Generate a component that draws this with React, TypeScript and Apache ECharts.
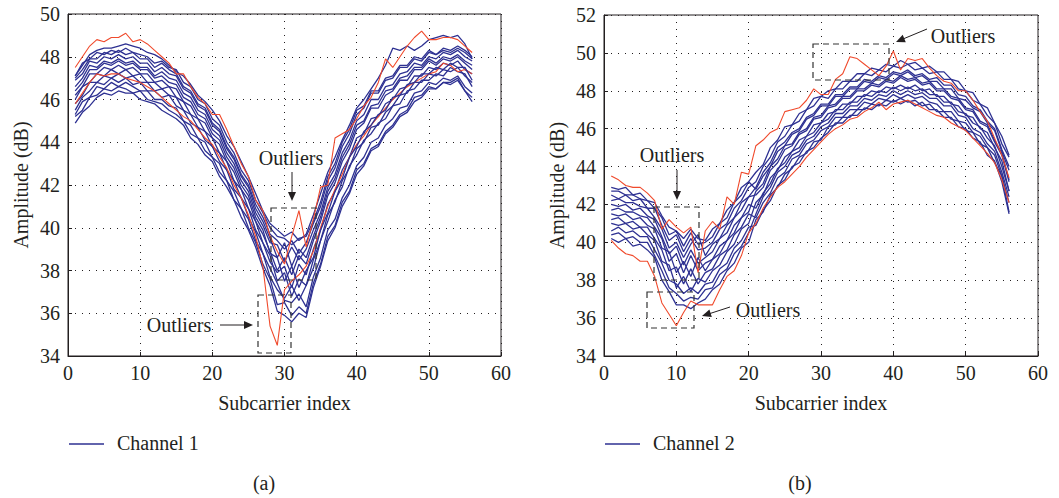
import React, { useEffect, useRef } from 'react';
import * as echarts from 'echarts';

// Subcarrier indices (x values)
const subcarriers = [1,2,3,4,5,6,7,8,9,10,11,12,13,14,15,16,17,18,19,20,21,22,23,24,25,26,27,28,29,30,31,32,33,34,35,36,37,38,39,40,41,42,43,44,45,46,47,48,49,50,51,52,53,54,55,56];

// ---------- Panel (a): Channel 1 ----------
const ch1Blue1 = [44.9,45.4,45.7,46.1,46.3,46.2,46.4,46.3,46.3,46.0,45.9,45.8,45.5,45.3,45.1,44.8,44.2,43.9,43.4,43.1,42.4,41.9,41.3,40.5,39.9,39.1,38.1,37.3,36.1,35.9,35.6,36.0,35.8,37.2,38.2,39.4,40.0,41.0,41.6,42.5,42.9,43.6,43.8,44.4,44.7,45.2,45.4,45.9,46.1,46.5,46.5,46.8,46.7,46.9,46.4,45.9];
const ch1Blue2 = [45.2,45.5,46.1,46.2,46.5,46.4,46.6,46.5,46.3,46.4,46.0,45.9,45.8,45.5,45.3,45.0,44.4,44.2,43.6,43.3,42.6,42.2,41.3,40.9,40.0,39.3,38.3,37.6,36.4,36.5,35.9,36.3,36.0,37.4,38.3,39.6,40.1,41.2,41.7,42.7,43.0,43.7,43.9,44.5,44.8,45.3,45.5,46.1,46.2,46.6,46.5,46.8,46.8,47.0,46.4,46.1];
const ch1Blue3 = [45.3,45.9,46.1,46.6,46.5,46.8,46.6,46.8,46.6,46.4,46.4,46.0,46.0,45.7,45.6,45.0,44.8,44.2,44.0,43.3,43.0,42.2,41.7,40.9,40.4,39.4,38.8,37.7,37.1,36.7,37.3,36.6,37.3,38.1,39.4,40.3,41.3,41.9,42.9,43.4,44.1,44.4,44.9,45.1,45.7,45.8,46.4,46.5,46.9,46.9,47.2,47.1,47.5,47.3,47.2,46.6];
const ch1Blue4 = [45.5,46.1,46.4,46.8,46.7,47.0,46.8,47.0,46.7,46.8,46.4,46.4,46.1,46.2,45.7,45.5,44.9,44.7,44.1,43.8,43.1,42.7,41.8,41.4,40.5,39.8,38.8,38.1,37.4,36.6,36.5,36.9,36.3,37.7,38.6,39.9,40.4,41.4,42.0,42.9,43.3,44.0,44.2,44.8,45.1,45.6,45.7,46.3,46.4,46.8,46.7,47.0,46.9,47.1,46.6,46.3];
const ch1Blue5 = [45.8,46.2,46.8,46.8,47.1,47.0,47.2,47.0,47.1,46.8,46.8,46.4,46.5,46.2,46.1,45.5,45.3,44.7,44.5,43.8,43.5,42.7,42.2,41.4,40.9,39.9,39.3,38.4,37.9,38.2,37.2,38.3,37.8,39.0,39.9,41.1,41.7,42.7,43.3,44.2,44.4,45.1,45.2,45.8,46.0,46.5,46.6,47.1,47.1,47.5,47.4,47.7,47.6,47.8,47.4,47.2];
const ch1Blue6 = [46.0,46.6,46.8,47.2,47.1,47.4,47.2,47.4,47.1,47.2,46.8,46.8,46.5,46.6,46.1,45.9,45.3,45.1,44.5,44.2,43.5,43.1,42.2,41.8,40.9,40.3,39.3,38.7,37.5,37.9,36.8,37.6,37.3,38.5,39.4,40.6,41.2,42.2,42.8,43.7,44.0,44.7,44.8,45.4,45.7,46.2,46.3,46.8,46.8,47.2,47.1,47.4,47.3,47.5,47.1,46.8];
const ch1Blue7 = [46.2,46.6,47.2,47.2,47.5,47.4,47.6,47.4,47.5,47.2,47.2,46.8,46.9,46.6,46.5,45.9,45.7,45.1,44.9,44.2,43.9,43.1,42.6,41.8,41.3,40.3,39.7,38.9,38.0,38.6,37.8,38.7,38.3,39.4,40.3,41.5,42.1,43.1,43.7,44.6,44.9,45.6,45.6,46.2,46.4,46.9,46.9,47.4,47.4,47.8,47.6,47.9,47.8,48.0,47.7,47.4];
const ch1Blue8 = [46.4,46.8,47.4,47.4,47.7,47.6,47.8,47.6,47.7,47.4,47.4,47.0,47.1,46.8,46.7,46.1,45.9,45.3,45.1,44.4,44.1,43.3,42.8,42.0,41.5,40.5,39.9,38.8,38.6,37.5,38.2,37.2,38.0,38.6,39.9,40.7,41.7,42.3,43.3,43.8,44.5,44.8,45.3,45.5,46.1,46.2,46.7,46.8,47.2,47.2,47.5,47.4,47.7,47.5,47.5,46.9];
const ch1Blue9 = [46.6,47.0,47.6,47.5,47.8,47.7,47.9,47.7,47.8,47.5,47.5,47.1,47.3,47.0,46.9,46.3,46.1,45.5,45.3,44.6,44.3,43.5,43.0,42.2,41.7,40.7,40.1,39.3,39.2,38.4,39.1,38.5,39.0,39.9,40.7,41.9,42.5,43.5,44.1,45.0,45.3,46.0,46.0,46.6,46.7,47.2,47.3,47.7,47.6,48.0,47.9,48.2,48.1,48.3,48.0,47.8];
const ch1Blue10 = [46.9,47.2,47.8,47.7,48.0,47.9,48.1,47.9,48.0,47.7,47.7,47.3,47.5,47.2,47.1,46.5,46.3,45.7,45.5,44.8,44.5,43.7,43.2,42.4,41.9,40.9,40.3,39.5,38.6,39.3,38.2,39.0,38.6,39.6,40.5,41.7,42.3,43.3,43.9,44.8,45.0,45.7,45.8,46.4,46.5,47.0,47.1,47.5,47.5,47.9,47.7,48.0,47.9,48.1,47.8,47.6];
const ch1Blue11 = [47.0,47.4,47.9,47.9,48.2,48.1,48.3,48.1,48.2,47.9,47.9,47.5,47.7,47.4,47.2,46.6,46.4,45.8,45.6,44.9,44.6,43.8,43.3,42.5,42.0,41.1,40.5,39.7,39.4,39.0,39.4,38.8,39.3,40.2,41.0,42.2,42.8,43.8,44.4,45.3,45.6,46.3,46.3,46.9,47.0,47.5,47.5,47.9,47.8,48.2,48.1,48.3,48.2,48.4,48.2,47.9];
const ch1Blue12 = [47.1,47.7,47.9,48.2,48.1,48.3,48.2,48.4,48.2,48.1,48.0,47.7,47.8,47.5,47.4,46.8,46.6,46.0,45.8,45.1,44.8,44.0,43.5,42.7,42.2,41.3,40.7,40.0,39.6,39.5,39.2,39.5,39.6,40.3,41.2,42.4,43.0,44.0,44.6,45.5,45.7,46.4,46.4,47.0,47.1,47.6,47.6,48.0,47.9,48.3,48.1,48.4,48.3,48.5,48.3,48.0];
const ch1Blue13 = [47.1,47.6,48.1,48.3,48.4,48.4,48.5,48.6,48.5,48.4,48.2,48.1,47.9,47.6,47.3,47.1,46.7,46.2,45.9,45.5,45.0,44.3,43.8,43.1,42.4,41.6,40.8,40.2,39.9,39.6,39.8,39.4,39.7,40.6,41.6,42.6,43.3,44.1,44.8,45.6,46.0,46.5,47.0,47.6,48.4,48.3,48.5,48.3,48.5,48.8,48.9,49.0,48.9,49.0,48.6,47.9];
const ch1Red1 = [47.5,48.0,48.5,48.8,48.7,48.9,48.9,49.1,48.7,48.8,48.6,48.3,48.0,47.7,47.2,47.2,46.6,46.1,45.8,45.3,45.3,44.6,43.8,43.0,42.4,41.3,40.8,39.6,38.9,38.3,39.6,40.8,39.1,40.4,41.9,42.0,44.2,44.4,44.6,45.1,45.7,46.1,46.8,47.9,47.5,48.0,48.5,48.9,49.2,48.8,48.8,48.9,48.9,48.8,48.5,48.2];
const ch1Red2 = [45.8,46.3,46.8,47.2,47.1,47.2,47.2,47.0,46.9,46.8,46.6,46.4,46.1,45.8,45.5,45.2,45.0,44.6,44.2,43.9,43.3,42.8,42.0,41.4,40.6,39.6,38.2,35.4,34.5,37.1,37.5,37.8,38.2,38.9,40.0,41.0,41.8,42.5,43.3,43.9,44.3,44.8,45.2,45.6,46.0,46.3,46.6,46.8,47.0,47.2,47.3,47.7,47.6,47.3,47.4,47.2];

// ---------- Panel (b): Channel 2 ----------
const ch2Blue1 = [40.2,40.0,40.2,39.8,39.9,39.6,39.2,38.0,37.4,36.7,36.7,36.5,36.8,37.0,37.5,37.8,38.5,38.9,39.7,40.0,41.2,41.6,42.5,42.9,43.6,43.9,44.5,44.7,45.3,45.4,46.1,46.2,46.6,46.6,47.0,47.0,47.3,47.2,47.5,47.4,47.6,47.4,47.5,47.2,47.3,46.9,46.9,46.5,46.4,45.9,45.8,45.2,45.0,44.2,43.5,41.6];
const ch2Blue2 = [40.4,40.5,40.2,40.3,40.0,40.0,39.3,38.5,37.6,37.3,36.9,37.1,37.0,37.5,37.6,38.3,38.6,39.4,39.8,40.5,41.5,42.4,42.9,43.7,44.0,44.6,44.8,45.4,45.6,46.1,46.3,46.8,46.8,47.2,47.2,47.6,47.5,47.8,47.7,48.0,47.8,48.0,47.8,47.9,47.6,47.6,47.2,47.2,46.7,46.6,46.0,45.8,45.2,44.8,43.7,42.4];
const ch2Blue3 = [40.6,40.8,40.5,40.6,40.3,40.3,39.6,38.9,38.0,37.8,37.3,37.6,37.3,37.8,37.9,38.6,38.9,39.7,40.1,40.8,40.9,41.7,42.2,43.0,43.3,44.0,44.2,44.8,45.0,45.5,45.8,46.3,46.3,46.7,46.7,47.1,47.0,47.3,47.2,47.5,47.3,47.5,47.2,47.4,47.0,47.0,46.6,46.6,46.1,46.0,45.5,45.3,44.6,44.3,43.2,41.5];
const ch2Blue4 = [41.0,40.9,41.0,40.7,40.8,40.4,40.1,39.0,38.8,37.6,38.2,37.4,38.1,37.9,38.5,38.8,39.5,39.9,40.7,41.0,42.1,42.5,43.4,43.8,44.5,44.8,45.4,45.6,46.2,46.3,46.8,46.9,47.3,47.3,47.7,47.7,48.0,47.9,48.2,48.1,48.3,48.1,48.3,48.0,48.1,47.7,47.7,47.3,47.2,46.7,46.6,46.0,45.8,45.0,44.3,42.7];
const ch2Blue5 = [41.2,41.3,41.0,41.1,40.8,40.8,40.2,39.6,38.5,38.7,37.8,38.6,37.8,38.4,38.6,39.3,39.6,40.4,40.8,41.5,41.3,42.1,42.6,43.4,43.7,44.4,44.6,45.2,45.4,45.9,46.1,46.6,46.6,47.0,47.0,47.4,47.3,47.6,47.5,47.8,47.6,47.8,47.6,47.7,47.4,47.3,46.9,46.9,46.4,46.3,45.8,45.6,45.0,44.6,43.5,42.1];
const ch2Blue6 = [41.5,41.4,41.5,41.2,41.3,40.9,40.7,39.7,39.5,38.4,39.0,38.2,39.2,38.5,39.1,39.4,40.1,40.5,41.3,41.6,42.7,43.1,44.0,44.4,45.1,45.2,45.8,46.0,46.6,46.7,47.2,47.3,47.7,47.7,48.1,48.1,48.4,48.3,48.6,48.5,48.8,48.6,48.7,48.4,48.5,48.1,48.1,47.7,47.6,47.1,47.0,46.4,46.2,45.4,44.7,43.3];
const ch2Blue7 = [41.7,41.8,41.6,41.6,41.4,41.3,40.8,40.2,39.0,39.4,38.4,39.3,38.5,38.9,39.1,39.8,40.1,40.9,41.3,42.0,41.8,42.6,43.1,43.9,44.2,44.8,45.0,45.6,45.8,46.3,46.5,47.0,47.0,47.4,47.4,47.8,47.7,48.0,47.9,48.2,48.0,48.2,48.0,48.1,47.8,47.8,47.4,47.4,46.9,46.8,46.3,46.1,45.5,45.1,44.0,42.7];
const ch2Blue8 = [42.0,41.9,42.0,41.7,41.8,41.4,41.2,40.3,39.4,39.8,38.8,39.6,38.9,39.2,39.5,40.2,40.5,41.3,41.7,42.4,42.9,43.7,44.2,45.0,45.3,45.8,46.0,46.6,46.8,47.3,47.3,47.8,47.8,48.2,48.2,48.6,48.5,48.8,48.7,49.0,48.9,49.1,48.8,48.9,48.6,48.7,48.3,48.3,47.8,47.7,47.2,47.0,46.4,46.0,44.9,44.0];
const ch2Blue9 = [42.2,42.3,42.1,42.1,41.9,41.8,41.3,40.7,39.7,40.0,39.2,39.9,40.4,39.3,39.9,40.2,40.9,41.3,42.1,42.4,42.5,42.9,43.8,44.2,44.9,45.1,45.7,45.9,46.5,46.6,47.1,47.2,47.6,47.6,48.0,48.0,48.3,48.2,48.5,48.4,48.7,48.5,48.6,48.3,48.4,48.0,48.0,47.6,47.5,47.0,46.9,46.3,46.1,45.3,44.6,43.2];
const ch2Blue10 = [42.5,42.3,42.5,42.2,42.3,41.8,41.8,40.9,40.1,40.4,39.5,40.2,39.6,39.7,40.0,40.7,41.0,41.8,42.2,42.9,43.2,44.0,44.5,45.3,45.6,46.2,46.4,47.0,47.2,47.7,47.6,48.1,48.1,48.5,48.5,48.9,48.8,49.1,49.0,49.3,49.2,49.4,49.1,49.2,48.9,49.0,48.6,48.6,48.1,48.0,47.5,47.3,46.7,46.3,45.2,44.5];
const ch2Blue11 = [42.7,42.7,42.5,42.5,42.3,42.2,41.8,41.3,40.4,40.6,39.8,40.5,39.9,40.0,40.3,41.0,41.3,42.1,42.5,43.2,42.8,43.5,44.0,44.8,45.1,45.7,45.9,46.5,46.7,47.2,47.2,47.7,47.7,48.1,48.1,48.5,48.4,48.7,48.6,48.9,48.8,49.0,48.7,48.8,48.5,48.5,48.1,48.1,47.6,47.5,47.1,46.9,46.3,45.9,44.8,43.8];
const ch2Blue12 = [42.9,42.8,42.9,42.5,42.6,42.2,42.1,41.4,40.8,40.6,40.2,40.7,40.2,40.1,40.7,41.0,41.7,42.1,42.9,43.2,43.7,44.1,45.0,45.4,46.1,46.2,46.8,47.0,47.6,47.7,48.0,48.1,48.5,48.5,48.9,48.9,49.2,49.1,49.4,49.3,49.6,49.4,49.5,49.2,49.3,49.0,49.0,48.6,48.5,48.0,47.9,47.3,47.1,46.3,45.6,44.6];
const ch2Red1 = [43.5,43.3,43.0,42.9,42.9,42.6,42.2,40.7,41.2,40.8,40.5,40.8,38.4,40.6,41.1,40.7,42.4,42.0,43.7,43.6,45.1,45.4,45.8,46.0,46.9,47.0,47.1,47.5,48.1,47.8,47.8,48.6,48.9,49.8,49.7,49.4,49.1,48.8,49.3,50.1,49.1,49.7,49.6,49.7,49.2,48.8,48.5,48.4,48.0,48.0,47.5,46.9,46.4,45.5,44.6,43.4];
const ch2Red2 = [40.1,39.7,39.4,39.3,39.0,39.0,38.2,36.8,36.2,35.6,36.3,36.9,36.7,36.7,36.7,37.5,38.2,38.5,39.3,40.5,41.0,41.8,42.4,42.9,43.2,43.6,44.0,44.5,44.9,45.3,45.7,46.0,46.2,46.5,46.6,46.9,47.1,47.4,47.0,47.3,47.4,47.5,47.3,47.1,46.9,46.7,46.6,46.3,46.1,45.9,45.5,45.1,44.7,44.2,43.3,42.1];

const ch1BlueSet = [ch1Blue1, ch1Blue2, ch1Blue3, ch1Blue4, ch1Blue5, ch1Blue6, ch1Blue7, ch1Blue8, ch1Blue9, ch1Blue10, ch1Blue11, ch1Blue12, ch1Blue13];
const ch2BlueSet = [ch2Blue1, ch2Blue2, ch2Blue3, ch2Blue4, ch2Blue5, ch2Blue6, ch2Blue7, ch2Blue8, ch2Blue9, ch2Blue10, ch2Blue11, ch2Blue12];

const legendNames = ['Channel 1', 'Channel 2'];
const panelLabels = ['(a)', '(b)'];
const xAxisName = 'Subcarrier index';
const yAxisName = 'Amplitude (dB)';
const outlierLabel = 'Outliers';

const FONT = '"Liberation Serif", "Times New Roman", serif';
const INK = '#231f20';
const BLUE = '#2e3192';
const RED = '#f04a2c';

function toPairs(values: number[]) {
  return values.map((v, i) => [subcarriers[i], v]);
}

export default function App() {
  const ref = useRef<HTMLDivElement>(null);

  useEffect(() => {
    if (!ref.current) return;
    const chart = echarts.init(ref.current, null, { renderer: 'svg' });

    const mkLine = (values: number[], color: string, g: number, z: number, w: number) => ({
      type: 'line',
      xAxisIndex: g,
      yAxisIndex: g,
      data: toPairs(values),
      symbol: 'none',
      showSymbol: false,
      silent: true,
      z,
      lineStyle: { color, width: w },
      emphasis: { disabled: true },
    });

    const series: any[] = [];
    ch1BlueSet.forEach((arr, i) => {
      series.push(mkLine(arr, BLUE, 0, 2, 1.3));
      if (i === 6) series.push(mkLine(ch1Red2, RED, 0, 2, 1.1));
    });
    series.push(mkLine(ch1Red1, RED, 0, 3, 1.1));
    ch2BlueSet.forEach((arr) => series.push(mkLine(arr, BLUE, 1, 2, 1.3)));
    series.push(mkLine(ch2Red2, RED, 1, 3, 1.1));
    series.push(mkLine(ch2Red1, RED, 1, 3, 1.1));

    const xAxisBase = (g: number) => ({
      gridIndex: g,
      type: 'value',
      min: 0,
      max: 60,
      interval: 10,
      axisLine: { show: true, lineStyle: { color: INK, width: 1 } },
      axisTick: { show: true, inside: true, length: 4, lineStyle: { color: INK } },
      axisLabel: { fontFamily: FONT, fontSize: 20, color: INK, margin: 7 },
      splitLine: { show: true, lineStyle: { color: INK, type: [1, 6], width: 1 } },
      name: xAxisName,
      nameLocation: 'middle',
      nameGap: 37,
      nameTextStyle: { fontFamily: FONT, fontSize: 20, color: INK },
    });
    const yAxisBase = (g: number, max: number) => ({
      gridIndex: g,
      type: 'value',
      min: 34,
      max,
      interval: 2,
      axisLine: { show: true, lineStyle: { color: INK, width: 1 } },
      axisTick: { show: true, inside: true, length: 4, lineStyle: { color: INK } },
      axisLabel: { fontFamily: FONT, fontSize: 20, color: INK, margin: 8 },
      splitLine: { show: true, lineStyle: { color: INK, type: [1, 6], width: 1 } },
      name: yAxisName,
      nameLocation: 'middle',
      nameRotate: 90,
      nameGap: 37,
      nameTextStyle: { fontFamily: FONT, fontSize: 20, color: INK },
    });

    const txt = (text: string, x: number, y: number, size = 20, align = 'center') => ({
      type: 'text',
      x,
      y,
      z: 100,
      silent: true,
      style: {
        text,
        fill: INK,
        fontFamily: FONT,
        fontSize: size,
        align,
        verticalAlign: 'middle',
        textAlign: align,
        textVerticalAlign: 'middle',
      },
    });
    const dashRect = (x: number, y: number, w: number, h: number) => ({
      type: 'rect',
      z: 100,
      silent: true,
      shape: { x, y, width: w, height: h },
      style: { fill: 'none', stroke: '#333', lineWidth: 1.2, lineDash: [6, 4] },
    });
    const seg = (x1: number, y1: number, x2: number, y2: number, color = INK, w = 1) => ({
      type: 'line',
      z: 100,
      silent: true,
      shape: { x1, y1, x2, y2 },
      style: { stroke: color, lineWidth: w },
    });
    const head = (pts: number[][]) => ({
      type: 'polygon',
      z: 100,
      silent: true,
      shape: { points: pts },
      style: { fill: INK },
    });

    const graphic = [
      // panel (a) annotations
      dashRect(271, 208, 45, 72),
      dashRect(258, 295, 33, 58),
      txt(outlierLabel, 291, 158),
      seg(292, 172, 292, 194),
      head([[288, 192], [296, 192], [292, 201]]),
      txt(outlierLabel, 179, 325),
      seg(220, 325, 246, 325),
      head([[244, 321], [244, 329], [253, 325]]),
      // panel (b) annotations
      dashRect(813, 44, 76, 36),
      txt(outlierLabel, 963, 36),
      seg(927, 29, 903, 39),
      head([[905.8, 42.2], [902.7, 34.8], [896, 42]]),
      dashRect(654, 207, 45, 73),
      txt(outlierLabel, 672, 155),
      seg(677, 170, 677, 193),
      head([[673, 191], [681, 191], [677, 200]]),
      dashRect(647, 292, 47, 36),
      txt(outlierLabel, 768, 310),
      seg(730, 307, 710, 313.5),
      head([[711.8, 317.0], [709.4, 309.4], [702, 316]]),
      // legends
      seg(69, 444, 104, 444, BLUE, 1.5),
      txt(legendNames[0], 117, 443, 20, 'left'),
      seg(605, 444, 640, 444, BLUE, 1.5),
      txt(legendNames[1], 653, 443, 20, 'left'),
      // panel labels
      txt(panelLabels[0], 264, 483),
      txt(panelLabels[1], 800, 483),
    ];

    chart.setOption({
      animation: false,
      backgroundColor: '#ffffff',
      grid: [
        { left: 68, top: 14, width: 433, height: 342, show: true, borderColor: INK, borderWidth: 1, backgroundColor: 'transparent' },
        { left: 604, top: 15, width: 434, height: 341, show: true, borderColor: INK, borderWidth: 1, backgroundColor: 'transparent' },
      ],
      xAxis: [xAxisBase(0), xAxisBase(1)],
      yAxis: [yAxisBase(0, 50), yAxisBase(1, 52)],
      series,
      graphic,
    });

    return () => chart.dispose();
  }, []);

  return (
    <div
      ref={ref}
      style={{ position: 'fixed', left: 0, top: 0, width: 1059, height: 498, background: '#fff' }}
    />
  );
}
